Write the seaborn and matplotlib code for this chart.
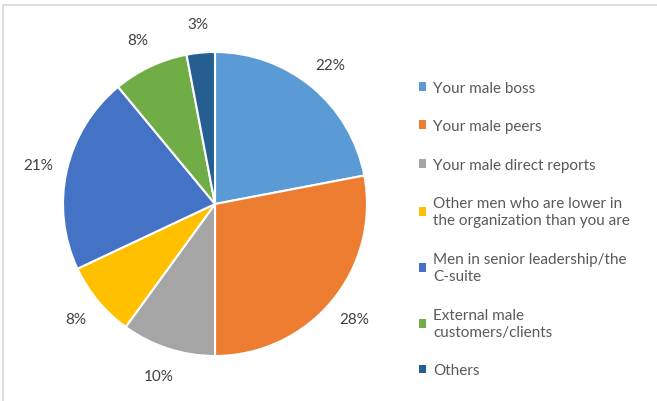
import matplotlib
matplotlib.use("Agg")
import matplotlib.pyplot as plt
import matplotlib.patches as mpatches
import seaborn as sns

categories = [
    "Your male boss",
    "Your male peers",
    "Your male direct reports",
    "Other men who are lower in\nthe organization than you are",
    "Men in senior leadership/the\nC-suite",
    "External male\ncustomers/clients",
    "Others",
]
shares = [22, 28, 10, 8, 21, 8, 3]
colors = ["#5B9BD5", "#ED7D31", "#A5A5A5", "#FFC000", "#4472C4", "#70AD47", "#255E91"]

sns.set_theme(style="white")
plt.rcParams["font.family"] = ["Lato", "DejaVu Sans"]

fig = plt.figure(figsize=(6.57, 4.02), dpi=100)

# light frame like the Excel chart area
fig.patches.append(mpatches.Rectangle(
    (3 / 657, -0.01), 1.0, 1 - 6 / 402 + 0.01,
    transform=fig.transFigure, fill=False, edgecolor="#d9d9d9", linewidth=1.2))

# pie axes: centre (215, 205) px, radius ~152 px
r = 152
ax = fig.add_axes([(215 - r) / 657, (402 - 205 - r) / 402, 2 * r / 657, 2 * r / 402])
wedges, texts = ax.pie(
    shares, colors=colors, startangle=90, counterclock=False,
    labels=[f"{v}%" for v in shares], labeldistance=1.19,
    wedgeprops=dict(edgecolor="white", linewidth=1.5),
    textprops=dict(fontsize=11, color="#404040"),
)
for t in texts:
    t.set_ha("center")
    t.set_va("center")
    t.set_clip_on(False)
ax.set_xlim(-1, 1)
ax.set_ylim(-1, 1)
ax.set_aspect("equal")
ax.axis("off")

leg = fig.legend(
    wedges, categories, loc="upper left", bbox_to_anchor=(405 / 657, 1 - 68 / 402),
    frameon=False, fontsize=11, labelcolor="#595959",
    handlelength=0.5, handleheight=0.5, handletextpad=0.45, labelspacing=1.6,
)
for t in leg.get_texts():
    t.set_linespacing(1.3)
for h in leg.legend_handles:
    h.set_edgecolor("none")

fig.savefig("out.png", dpi=100)
